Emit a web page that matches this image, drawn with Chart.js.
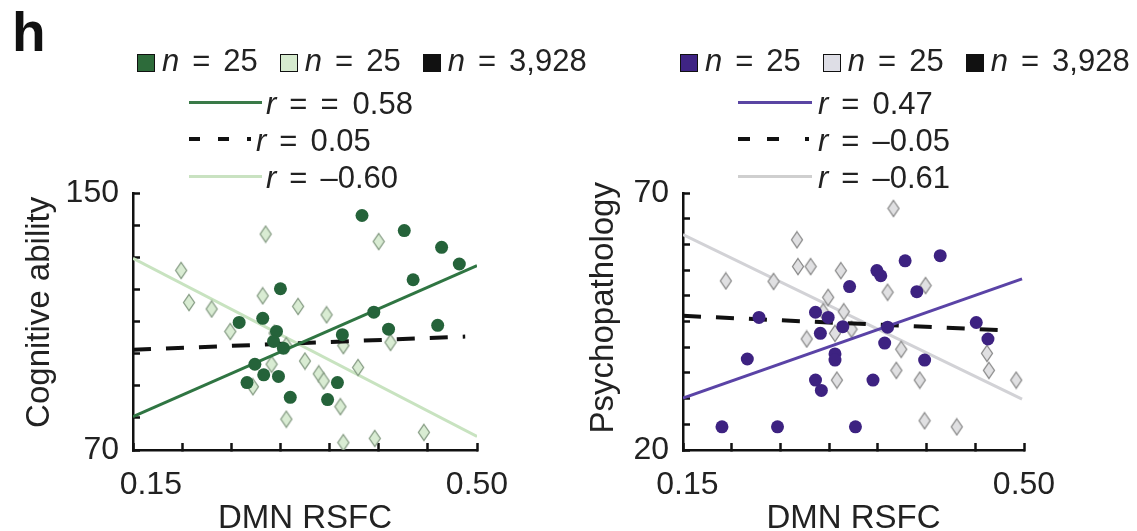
<!DOCTYPE html>
<html>
<head>
<meta charset="utf-8">
<script src="https://cdn.jsdelivr.net/npm/chart.js@4.4.1/dist/chart.umd.min.js"></script>
<style>
body { margin: 0; background: #fff; font-family: 'Liberation Sans', Arial, sans-serif; color: #222; }
#wrap { position: relative; width: 1137px; height: 531px; overflow: hidden; }
canvas { position: absolute; top: 0; }
#leftCanvas { left: 0; }
#rightCanvas { left: 560px; }
.tag { position: absolute; left: 12px; top: 5px; font-size: 55px; font-weight: bold; line-height: 1; color: #111; }
.row { position: absolute; font-size: 31px; line-height: 1; white-space: nowrap; }
.row i { font-style: italic; }
.eq { margin: 0 13px; }
.sq { display: inline-block; width: 16px; height: 16px; border: 1.5px solid #111; vertical-align: -1px; margin-right: 7px; }
.gap { display: inline-block; width: 22px; }
.ln { position: absolute; height: 3px; }
.dash { position: absolute; height: 4px; background: #111; }
</style>
</head>
<body>
<div id="wrap">
  <canvas id="leftCanvas" width="560" height="531"></canvas>
  <canvas id="rightCanvas" width="577" height="531"></canvas>

  <div class="tag">h</div>

  <div class="row" style="left:137px; top:45px;"><span class="sq" style="background:#2d6b3a"></span><i>n</i><span class="eq">=</span>25<span class="gap"></span><span class="sq" style="background:#d6ebcf"></span><i>n</i><span class="eq">=</span>25<span class="gap"></span><span class="sq" style="background:#111"></span><i>n</i><span class="eq">=</span>3,928</div>
  <div class="ln" style="left:189px; top:101px; width:73px; background:#3a7a48;"></div>
  <div class="row" style="left:266px; top:88px;"><i>r</i><span class="eq">=</span>=<span style="margin-left:14px">0.58</span></div>
  <div class="dash" style="left:189px; top:137px; width:11px;"></div>
  <div class="dash" style="left:218px; top:137px; width:11px;"></div>
  <div class="dash" style="left:247px; top:137px; width:4px;"></div>
  <div class="row" style="left:256px; top:125px;"><i>r</i><span class="eq">=</span>0.05</div>
  <div class="ln" style="left:189px; top:175px; width:73px; background:#c9e2c1;"></div>
  <div class="row" style="left:266px; top:162px;"><i>r</i><span class="eq">=</span>–0.60</div>

  <div class="row" style="left:680px; top:45px;"><span class="sq" style="background:#3f2484"></span><i>n</i><span class="eq">=</span>25<span class="gap"></span><span class="sq" style="background:#dedee6"></span><i>n</i><span class="eq">=</span>25<span class="gap"></span><span class="sq" style="background:#111"></span><i>n</i><span class="eq">=</span>3,928</div>
  <div class="ln" style="left:738px; top:101px; width:74px; background:#5a45a3;"></div>
  <div class="row" style="left:818px; top:88px;"><i>r</i><span class="eq">=</span>0.47</div>
  <div class="dash" style="left:738px; top:137px; width:12px;"></div>
  <div class="dash" style="left:767px; top:137px; width:12px;"></div>
  <div class="dash" style="left:805px; top:137px; width:4px;"></div>
  <div class="row" style="left:818px; top:125px;"><i>r</i><span class="eq">=</span>–0.05</div>
  <div class="ln" style="left:738px; top:175px; width:74px; background:#cfcfcf;"></div>
  <div class="row" style="left:818px; top:162px;"><i>r</i><span class="eq">=</span>–0.61</div>
</div>

<script>
'use strict';

// ---- left panel: cognitive ability ----
let leftCircleX = [0.383, 0.426, 0.464, 0.482, 0.435, 0.300, 0.395, 0.258, 0.282, 0.410, 0.460,
  0.363, 0.296, 0.293, 0.303, 0.274, 0.283, 0.298, 0.266, 0.358, 0.310, 0.348];
let leftCircleY = [143.0, 138.3, 133.1, 127.9, 123.0, 120.2, 112.9, 109.7, 111.0, 107.6, 108.8,
  105.9, 106.9, 103.8, 101.7, 96.7, 93.4, 92.9, 91.0, 91.0, 86.4, 85.7];
let leftDiamondX = [0.285, 0.400, 0.199, 0.207, 0.230, 0.282, 0.318, 0.347, 0.249, 0.294, 0.364, 0.412,
  0.291, 0.325, 0.339, 0.344, 0.379, 0.272, 0.361, 0.306, 0.364, 0.396, 0.446, 0.306];
let leftDiamondY = [137.2, 134.9, 125.9, 115.9, 113.9, 118.0, 114.7, 112.1, 106.9, 106.4, 102.5, 103.5,
  96.7, 97.7, 93.7, 91.5, 95.7, 89.7, 83.5, 79.6, 72.3, 73.6, 75.5, 102.5];
let leftFitX = [0.15, 0.50];
let leftFitY = [80.4, 127.4];
let leftLightFitY = [129.7, 74.2];
let leftAllFitX = [0.15, 0.488];
let leftAllFitY = [101.2, 105.3];
let leftYTicks = [70, 80, 90, 100, 110, 120, 130, 140, 150];
let leftYLabels = ['70', '', '', '', '', '', '', '', '150'];

// ---- right panel: psychopathology ----
let rightCircleX = [0.190, 0.247, 0.327, 0.216, 0.228, 0.286, 0.299, 0.291, 0.314, 0.306, 0.306, 0.286,
  0.292, 0.345, 0.321, 0.349, 0.353, 0.378, 0.414, 0.390, 0.357, 0.360, 0.398, 0.451, 0.463];
let rightCircleY = [24.5, 24.5, 24.5, 37.7, 45.8, 46.8, 45.8, 42.7, 44.0, 38.7, 37.5, 33.6,
  31.6, 33.6, 51.8, 54.9, 53.9, 56.8, 57.8, 50.8, 40.8, 43.9, 37.5, 44.8, 41.6];
let rightDiamondX = [0.366, 0.267, 0.268, 0.281, 0.312, 0.194, 0.243, 0.360, 0.399, 0.299, 0.294, 0.315,
  0.323, 0.306, 0.277, 0.374, 0.369, 0.308, 0.393, 0.462, 0.464, 0.492, 0.398, 0.431];
let rightDiamondY = [67.0, 60.9, 55.7, 55.7, 54.9, 52.9, 52.8, 50.7, 52.0, 49.7, 46.9, 46.9,
  43.5, 42.7, 41.6, 39.6, 35.5, 33.6, 33.6, 38.8, 35.5, 33.6, 25.7, 24.5];
let rightFitX = [0.15, 0.498];
let rightFitY = [30.1, 53.3];
let rightLightFitY = [61.9, 29.9];
let rightAllFitX = [0.15, 0.488];
let rightAllFitY = [46.1, 43.2];
let rightYTicks = [20, 25, 30, 35, 40, 45, 50, 55, 60, 65, 70];
let rightYLabels = ['20', '', '', '', '', '', '', '', '', '', '70'];

let xTicks = [0.15, 0.20, 0.25, 0.30, 0.35, 0.40, 0.45, 0.50];
let xLabels = ['0.15', '', '', '', '', '', '', '0.50'];

let fontFamily = "'Liberation Sans', Arial, sans-serif";

function toPoints(xs, ys) {
  return xs.map((x, i) => ({ x: x, y: ys[i] }));
}

function diamondImage(fill, stroke) {
  let c = document.createElement('canvas');
  c.width = 14;
  c.height = 19;
  let g = c.getContext('2d');
  g.beginPath();
  g.moveTo(7, 1.5);
  g.lineTo(12.5, 9.5);
  g.lineTo(7, 17.5);
  g.lineTo(1.5, 9.5);
  g.closePath();
  g.fillStyle = fill;
  g.fill();
  g.lineWidth = 1.3;
  g.strokeStyle = stroke;
  g.stroke();
  return c;
}

// tick marks point into the plot: negative tickLength
let axisGrid = {
  display: true,
  drawOnChartArea: false,
  drawTicks: true,
  tickLength: -7,
  tickWidth: 2.5,
  tickColor: '#111'
};

function makePanel(canvasId, p) {
  let ctx = document.getElementById(canvasId).getContext('2d');
  // eslint-disable-next-line no-unused-vars
  let chart = new Chart(ctx, {
    type: 'scatter',
    data: {
      datasets: [
        {
          data: toPoints(p.circleX, p.circleY),
          backgroundColor: p.circleColor,
          borderColor: p.circleColor,
          pointRadius: 6.5,
          pointBorderWidth: 0
        },
        {
          type: 'line',
          data: toPoints(p.fitX, p.fitY),
          borderColor: p.fitColor,
          borderWidth: 3,
          pointRadius: 0,
          fill: false
        },
        {
          type: 'line',
          data: toPoints(p.allFitX, p.allFitY),
          borderColor: '#111',
          borderWidth: 4,
          borderDash: [18, 15],
          pointRadius: 0,
          fill: false
        },
        {
          data: toPoints(p.diamondX, p.diamondY),
          pointStyle: diamondImage(p.diamondFill, p.diamondStroke)
        },
        {
          type: 'line',
          data: toPoints(p.fitX, p.lightFitY),
          borderColor: p.lightColor,
          borderWidth: 3,
          pointRadius: 0,
          fill: false
        }
      ]
    },
    options: {
      responsive: false,
      animation: false,
      layout: { padding: { left: 0, top: 193, right: p.rightPad, bottom: 0 } },
      plugins: { legend: { display: false }, tooltip: { enabled: false } },
      scales: {
        x: {
          type: 'linear',
          min: 0.15,
          max: 0.50,
          afterBuildTicks: s => { s.ticks = xTicks.map(v => ({ value: v })); },
          afterFit: s => { s.height = 81; },
          grid: axisGrid,
          border: { display: true, color: '#111', width: 2.5 },
          ticks: {
            autoSkip: false,
            maxRotation: 0,
            padding: 23,
            color: '#222',
            font: { size: 32, family: fontFamily },
            callback: (v, i) => (i === 0 ? p.firstPad : '') + xLabels[i]
          },
          title: {
            display: true,
            text: 'DMN RSFC',
            color: '#222',
            font: { size: 33, family: fontFamily, lineHeight: 1 },
            padding: { top: 0, bottom: -4 }
          }
        },
        y: {
          min: p.yMin,
          max: p.yMax,
          afterBuildTicks: s => { s.ticks = p.yTicks.map(v => ({ value: v })); },
          afterFit: s => { s.width = p.axisLeft; },
          grid: axisGrid,
          border: { display: true, color: '#111', width: 2.5 },
          ticks: {
            autoSkip: false,
            padding: 21,
            color: '#222',
            font: { size: 32, family: fontFamily },
            callback: (v, i) => p.yLabels[i]
          },
          title: {
            display: true,
            text: p.yTitle,
            color: '#222',
            font: { size: 33, family: fontFamily, lineHeight: 1.2 },
            padding: { top: p.titlePad, bottom: 0 }
          }
        }
      }
    }
  });
}

makePanel('leftCanvas', {
  circleX: leftCircleX, circleY: leftCircleY,
  diamondX: leftDiamondX, diamondY: leftDiamondY,
  fitX: leftFitX, fitY: leftFitY, lightFitY: leftLightFitY,
  allFitX: leftAllFitX, allFitY: leftAllFitY,
  yTicks: leftYTicks, yLabels: leftYLabels, yMin: 70, yMax: 150,
  yTitle: '  Cognitive ability',
  circleColor: '#25633a', fitColor: '#2f7542', lightColor: '#c8e3c0',
  diamondFill: '#d9ecd3', diamondStroke: '#869c84',
  axisLeft: 133, rightPad: 83, titlePad: 20, firstPad: '    '
});

makePanel('rightCanvas', {
  circleX: rightCircleX, circleY: rightCircleY,
  diamondX: rightDiamondX, diamondY: rightDiamondY,
  fitX: rightFitX, fitY: rightFitY, lightFitY: rightLightFitY,
  allFitX: rightAllFitX, allFitY: rightAllFitY,
  yTicks: rightYTicks, yLabels: rightYLabels, yMin: 20, yMax: 70,
  yTitle: '   Psychopathology',
  circleColor: '#3d2281', fitColor: '#5a43a6', lightColor: '#d2d2d6',
  diamondFill: '#e0e0e2', diamondStroke: '#8a8a8a',
  axisLeft: 123, rightPad: 113, titlePad: 24, firstPad: ' '
});
</script>
</body>
</html>
